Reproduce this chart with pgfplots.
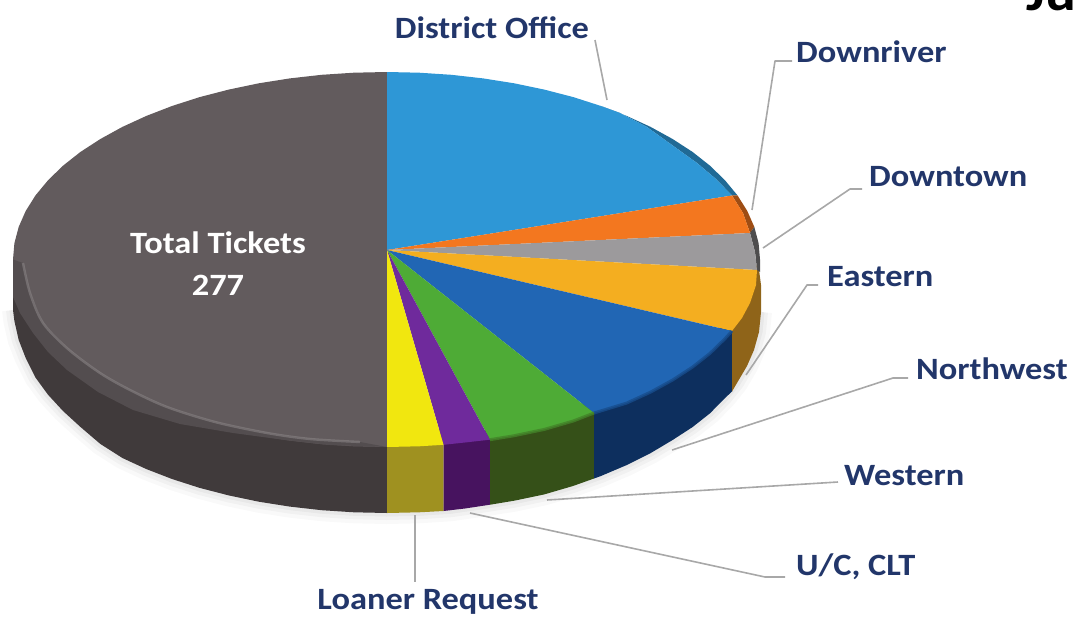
\documentclass[border=0pt]{standalone}
\usepackage{pgfplots}
\pgfplotsset{compat=1.18}
\usepackage{pgfplotstable}
\usepackage{fontspec}
\setmainfont{Carlito}[FakeStretch=1.11]

\definecolor{lab}{HTML}{22366A}
\definecolor{lead}{HTML}{A8A8A8}
\definecolor{cdark}{HTML}{625B5D}
\definecolor{cblue}{HTML}{2E97D6}
\definecolor{corange}{HTML}{F3771F}
\definecolor{cgray}{HTML}{9C9A9C}
\definecolor{cgold}{HTML}{F4AE20}
\definecolor{cmid}{HTML}{2166B4}
\definecolor{cgreen}{HTML}{4EAB36}
\definecolor{cpurple}{HTML}{6F2A9C}
\definecolor{cyellow}{HTML}{F1E70F}
\definecolor{sdark}{HTML}{403A3B}
\definecolor{solive}{HTML}{9F9120}
\definecolor{spurple}{HTML}{47135F}
\definecolor{sgreen}{HTML}{355018}
\definecolor{snavy}{HTML}{0D2F5E}
\definecolor{sbrown}{HTML}{8F6419}

% lower edge of the disc, for the soft shadow
\pgfplotstableread{
x y
13 310
14.4 321
18.7 340
25.7 358
35.5 377.6
48 394.7
63 411
80.5 427
100.4 444
122.4 458
146.4 469.1
172.3 479.1
199.7 487.9
228.7 495.4
258.8 501.7
289.8 506.6
321.7 510.2
353.9 512.3
386.5 513
419.1 512.3
451.3 510.2
483.2 505.6
514.2 500.7
544.3 494.4
573.3 485.9
600.7 476.1
626.6 465.1
650.6 453.1
672.6 440
692.5 427.1
710 413.3
725 398
737 383
747 366
754 350
759 332
761 312
}\edgetable

\begin{document}
\begin{tikzpicture}
\useasboundingbox (0,0) rectangle (1073pt,618pt);
\begin{axis}[
  at={(0,0)},anchor=south west,
  scale only axis,width=1073pt,height=618pt,
  xmin=0,xmax=1073,ymin=0,ymax=618,
  y dir=reverse,hide axis,clip=false,
  every axis plot/.append style={line join=round}
]
% shadow
\addplot[draw=black,opacity=.025,line width=22pt,no marks] table {\edgetable};
\addplot[draw=black,opacity=.03,line width=14pt,no marks] table {\edgetable};
\addplot[draw=black,opacity=.04,line width=7pt,no marks] table {\edgetable};

% side faces
\addplot[fill=sdark,draw=none] coordinates {(387,400)(13,259.5)(13,310)(14.4,321)(18.7,340)(25.7,358)(35.5,377.6)(48,394.7)(63,411)(80.5,427)(100.4,444)(122.4,458)(146.4,469.1)(172.3,479.1)(199.7,487.9)(228.7,495.4)(258.8,501.7)(289.8,506.6)(321.7,510.2)(353.9,512.3)(387,513)};
\addplot[fill=solive,draw=none] coordinates {(387,430)(443.5,430)(443.5,511)(419.1,512.3)(387,513)};
\addplot[fill=spurple,draw=none] coordinates {(443.5,430)(490,430)(490,504.7)(465,508.5)(443.5,511)};
\addplot[fill=sgreen,draw=none] coordinates {(490,430)(594,400)(594,478.5)(573.3,485.9)(544.3,494.4)(514.2,500.7)(490,504.7)};
\addplot[fill=snavy,draw=none] coordinates {(594,400)(732,320)(732,391.5)(725,398)(710,413.3)(692.5,427.1)(672.6,440)(650.6,453.1)(626.6,465.1)(600.7,476.1)(594,478.5)};
\addplot[fill=sbrown,draw=none] coordinates {(732,320)(758,262)(761,285)(761,312)(759,332)(754,350)(747,366)(737,383)(732,391.5)};

% thin rim on the upper right
\addplot[fill=cblue!70!black,draw=none] coordinates {(600.7,105.9)(626.6,115.9)(650.6,126.9)(672.6,139)(692.5,151.9)(710,165.7)(725,180.3)(737.5,195.4)(732,195.5)(716,179)(697,163)(672,145)(647,127)(620,113)};
\addplot[fill=corange!65!black,draw=none] coordinates {(737.5,195.4)(747.3,211)(754.3,226.9)(750,233)(743,213)(732,195.5)};
\addplot[fill=cgray!50!black,draw=none] coordinates {(754.3,226.9)(758.6,243.2)(760,259.5)(760,272)(757,270)(755,252)(750,233)};

% top faces
\addplot[fill=cdark,draw=none] coordinates {(387,72)(353.9,72.7)(321.7,74.8)(289.8,78.4)(258.8,83.3)(228.7,89.6)(199.7,97.1)(172.3,105.9)(146.4,115.9)(122.4,126.9)(100.4,139)(80.5,151.9)(63,165.7)(48,180.3)(35.5,195.4)(25.7,211)(18.7,226.9)(14.4,243.2)(13,259.5)(14.4,275.8)(18.7,292.1)(25.7,308)(35.5,323.6)(48,338.7)(63,353.3)(80.5,367.1)(100.4,380)(122.4,392.1)(146.4,403.1)(172.3,413.1)(199.7,421.9)(228.7,429.4)(258.8,435.7)(289.8,440.6)(321.7,444.2)(353.9,446.3)(387,447)};
\addplot[fill=cblue,draw=none] coordinates {(387,250)(387,72)(419.1,72.7)(451.3,74.8)(483.2,78.4)(514.2,83.3)(544.3,89.6)(573.3,97.1)(600.7,105.9)(620,113)(647,127)(672,145)(697,163)(716,179)(732,195.5)};
\addplot[fill=corange,draw=none] coordinates {(387,250)(732,195.5)(743,213)(750,233)};
\addplot[fill=cgray,draw=none] coordinates {(387,250)(750,233)(755,252)(757,270)};
\addplot[fill=cgold,draw=none] coordinates {(387,250)(757,270)(756,285)(750,303)(742,318)(732,331)};
\addplot[fill=cmid,draw=none] coordinates {(387,250)(732,331)(725,338.7)(710,353.3)(692.5,367.1)(672.6,380)(650.6,392.1)(626.6,403.1)(594,413)};
\addplot[fill=cgreen,draw=none] coordinates {(387,250)(594,413)(573.3,421)(544.3,429.4)(514.2,435.7)(490,439.7)};
\addplot[fill=cpurple,draw=none] coordinates {(387,250)(490,439.7)(465,442.5)(443.5,444.8)};
\addplot[fill=cyellow,draw=none] coordinates {(387,250)(443.5,444.8)(419.1,446.3)(387,447)};

% soft edge between the top and the side
\addplot[draw=cmid!55!snavy,line width=3pt,opacity=.8] coordinates {(732,331)(725,338.7)(710,353.3)(692.5,367.1)(672.6,380)(650.6,392.1)(626.6,403.1)(594,413)};
\addplot[draw=cgreen!55!sgreen,line width=3pt,opacity=.8] coordinates {(594,413)(573.3,421)(544.3,429.4)(514.2,435.7)(490,439.7)};

% bevel on the dark slice
\addplot[fill=cdark!85!black,draw=none] coordinates {(13,259.5)(13,297)(20,313)(33,333)(48,352)(67,370)(98,392)(133,410)(180,424)(233,433)(285,440)(330,445)(387,447)(360,442)(310,439)(267,433)(215,422)(167,407)(130,390)(100,373)(68,349)(43,323)(30,293)(23,263)};
\addplot[draw=cdark!72!white,line width=2.4pt,opacity=.55,smooth] coordinates {(23,263)(30,293)(43,323)(68,349)(100,373)(130,390)(167,407)(215,422)(267,433)(310,439)(360,442)};

% leader lines
\addplot[lead,line width=1.6pt] coordinates {(595,40)(607,100)};
\addplot[lead,line width=1.6pt] coordinates {(792,61)(775,61)(752,210)};
\addplot[lead,line width=1.6pt] coordinates {(862,189)(850,189)(763,248)};
\addplot[lead,line width=1.6pt] coordinates {(818,285)(807,285)(746,375)};
\addplot[lead,line width=1.6pt] coordinates {(908,378)(893,378)(672,450)};
\addplot[lead,line width=1.6pt] coordinates {(838,482)(547,500)};
\addplot[lead,line width=1.6pt] coordinates {(785,577)(765,577)(470,513)};
\addplot[lead,line width=1.6pt] coordinates {(415,515)(415,582)};

% labels
\tikzset{lb/.style={font=\fontsize{31}{31}\selectfont\bfseries,text=lab,inner sep=0pt}}
\node[lb] at (axis cs:492,28) {District Office};
\node[lb,anchor=west] at (axis cs:796,52) {Downriver};
\node[lb,anchor=west] at (axis cs:869,177) {Downtown};
\node[lb,anchor=west] at (axis cs:827,277) {Eastern};
\node[lb,anchor=west] at (axis cs:916,369) {Northwest};
\node[lb,anchor=west] at (axis cs:844,476) {Western};
\node[lb,anchor=west] at (axis cs:796,567) {U/C, CLT};
\node[lb] at (axis cs:428,602) {Loaner Request};
\node[lb,text=white] at (axis cs:218,243) {Total Tickets};
\node[lb,text=white] at (axis cs:218,285) {277};
\node[font=\fontsize{52}{52}\selectfont\bfseries,text=black,anchor=base west,inner sep=0pt] at (axis cs:1026,11) {Ju};
\end{axis}
\end{tikzpicture}
\end{document}
